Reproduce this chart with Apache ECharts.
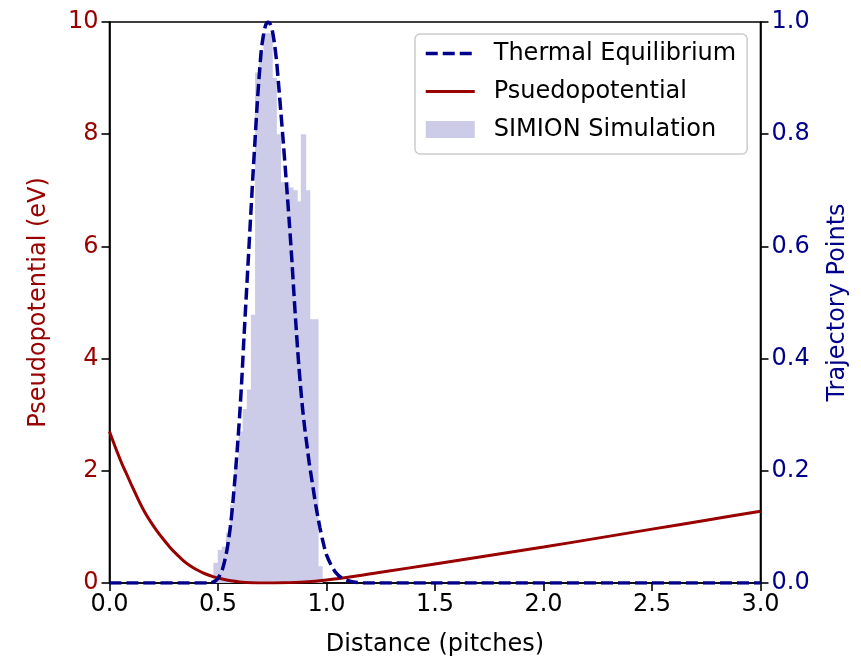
<!DOCTYPE html>
<html><head><meta charset="utf-8">
<script src="https://cdn.jsdelivr.net/npm/echarts@6/dist/echarts.min.js"></script>
<style>html,body{margin:0;padding:0;background:#fff}#c{width:861px;height:659px}</style>
</head><body><div id="c"></div>
<script>
// Pseudopotential (eV) vs distance (pitches)
const psX = [0, 0.02, 0.04, 0.06, 0.08, 0.10, 0.13, 0.16, 0.19, 0.22, 0.25, 0.28, 0.31, 0.34, 0.37, 0.40, 0.44, 0.48, 0.52, 0.56, 0.60, 0.65, 0.72, 0.80, 0.90, 1.00, 1.13, 1.25, 1.5, 1.75, 2.0, 2.25, 2.5, 2.75, 3.0];
const psV = [2.70, 2.49, 2.29, 2.10, 1.93, 1.76, 1.51, 1.28, 1.09, 0.92, 0.77, 0.63, 0.51, 0.40, 0.31, 0.24, 0.165, 0.11, 0.07, 0.04, 0.02, 0.006, 0.0, 0.004, 0.02, 0.055, 0.12, 0.19, 0.34, 0.49, 0.64, 0.80, 0.96, 1.12, 1.28];
// Thermal equilibrium distribution (normalised)
const thX = [0, 0.46, 0.48, 0.50, 0.52, 0.53, 0.54, 0.55, 0.56, 0.57, 0.58, 0.59, 0.60, 0.61, 0.62, 0.63, 0.64, 0.65, 0.66, 0.67, 0.68, 0.69, 0.70, 0.71, 0.72, 0.73, 0.74, 0.75, 0.76, 0.77, 0.78, 0.79, 0.80, 0.81, 0.82, 0.83, 0.84, 0.85, 0.86, 0.87, 0.88, 0.89, 0.90, 0.91, 0.92, 0.93, 0.94, 0.95, 0.96, 0.97, 0.98, 0.99, 1.00, 1.02, 1.04, 1.07, 1.10, 1.14, 1.18, 3.0];
const thY = [0, 0, 0.002, 0.008, 0.024, 0.038, 0.056, 0.08, 0.11, 0.15, 0.195, 0.245, 0.30, 0.365, 0.44, 0.51, 0.58, 0.65, 0.72, 0.785, 0.85, 0.905, 0.952, 0.978, 0.995, 1.0, 0.997, 0.985, 0.962, 0.93, 0.885, 0.838, 0.79, 0.74, 0.688, 0.635, 0.578, 0.515, 0.455, 0.40, 0.352, 0.31, 0.275, 0.245, 0.215, 0.19, 0.165, 0.14, 0.118, 0.098, 0.08, 0.064, 0.05, 0.033, 0.02, 0.009, 0.004, 0.001, 0, 0];
// SIMION simulation histogram
const binEdges = [0.481, 0.501, 0.520, 0.539, 0.558, 0.577, 0.597, 0.616, 0.635, 0.654, 0.673, 0.692, 0.712, 0.731, 0.750, 0.769, 0.788, 0.808, 0.827, 0.846, 0.865, 0.884, 0.904, 0.923, 0.942, 0.961, 0.980];
const binCounts = [0.036, 0.059, 0.065, 0.09, 0.14, 0.21, 0.27, 0.31, 0.345, 0.478, 0.91, 0.945, 0.98, 0.98, 0.90, 0.80, 0.715, 0.715, 0.705, 0.70, 0.68, 0.80, 0.70, 0.47, 0.47, 0.03];

const FONT = 'DejaVu Sans';
const FS = 24;
const RED = '#990000', BLUE = '#00008b', HIST = '#ccccE8';
const DASH = [12, 5];
const psData = psX.map((x, i) => [x, psV[i]]);
const thData = thX.map((x, i) => [x, thY[i]]);
const histData = binCounts.map((c, i) => [binEdges[i], binEdges[i + 1], c]);

const chart = echarts.init(document.getElementById('c'), null, {renderer: 'canvas'});
const axisCommon = {
  axisLine: {show: true, lineStyle: {color: '#000', width: 1.6}},
  axisTick: {show: true, inside: false, length: 8, lineStyle: {color: '#000', width: 1.6}},
  splitLine: {show: false}
};
chart.setOption({
  animation: false,
  backgroundColor: '#fff',
  grid: {left: 109.5, right: 100.5, top: 22, bottom: 76, containLabel: false, outerBoundsMode: 'none',
    show: true, borderColor: '#000', borderWidth: 1.6, backgroundColor: 'transparent'},
  xAxis: Object.assign({
    type: 'value', min: 0, max: 3, interval: 0.5,
    name: 'Distance (pitches)', nameLocation: 'middle', nameGap: 50,
    nameTextStyle: {fontFamily: FONT, fontSize: FS, color: '#000'},
    axisLabel: {fontFamily: FONT, fontSize: FS, color: '#000', margin: 10, formatter: v => v.toFixed(1)}
  }, axisCommon),
  yAxis: [
    Object.assign({
      type: 'value', min: 0, max: 10, interval: 2, position: 'left',
      name: 'Pseudopotential (eV)', nameLocation: 'middle', nameGap: 59,
      nameTextStyle: {fontFamily: FONT, fontSize: FS, color: RED},
      axisLabel: {fontFamily: FONT, fontSize: FS, color: RED, margin: 11}
    }, axisCommon),
    Object.assign({
      type: 'value', min: 0, max: 1, interval: 0.2, position: 'right',
      name: 'Trajectory Points', nameLocation: 'middle', nameGap: 65,
      nameTextStyle: {fontFamily: FONT, fontSize: FS, color: BLUE},
      axisLabel: {fontFamily: FONT, fontSize: FS, color: BLUE, margin: 11, formatter: v => v.toFixed(1)}
    }, axisCommon)
  ],
  legend: {
    orient: 'vertical', left: 415, top: 34,
    padding: [7, 11, 12, 9], itemGap: 13, itemWidth: 49, itemHeight: 17,
    backgroundColor: 'rgba(255,255,255,0.8)', borderColor: '#cccccc', borderWidth: 1.5, borderRadius: 5,
    textStyle: {fontFamily: FONT, fontSize: FS, lineHeight: 25, color: '#000', padding: [0, 0, 0, 14]},
    data: [
      {name: 'Thermal Equilibrium', itemStyle: {opacity: 0}, lineStyle: {color: BLUE, width: 3.5, type: DASH}},
      {name: 'Psuedopotential', itemStyle: {opacity: 0}, lineStyle: {color: RED, width: 3.2, type: 'solid'}},
      {name: 'SIMION Simulation', icon: 'rect'}
    ]
  },
  series: [
    {
      name: 'SIMION Simulation', type: 'custom', xAxisIndex: 0, yAxisIndex: 1, z: 1,
      itemStyle: {color: HIST},
      encode: {x: [0, 1], y: 2},
      data: histData,
      renderItem: function (params, api) {
        const p0 = api.coord([api.value(0), api.value(2)]);
        const p1 = api.coord([api.value(1), 0]);
        return {type: 'rect', shape: {x: p0[0] - 0.5, y: p0[1], width: p1[0] - p0[0] + 1, height: p1[1] - p0[1]},
          style: {fill: HIST}};
      }
    },
    {
      name: 'Psuedopotential', type: 'line', xAxisIndex: 0, yAxisIndex: 0, z: 3,
      data: psData, smooth: 0.3, symbol: 'none',
      lineStyle: {color: RED, width: 3}, itemStyle: {color: RED}
    },
    {
      name: 'Thermal Equilibrium', type: 'line', xAxisIndex: 0, yAxisIndex: 1, z: 4,
      data: thData, smooth: 0.2, symbol: 'none',
      lineStyle: {color: BLUE, width: 3.5, type: DASH}, itemStyle: {color: BLUE}
    }
  ]
});
</script></body></html>
